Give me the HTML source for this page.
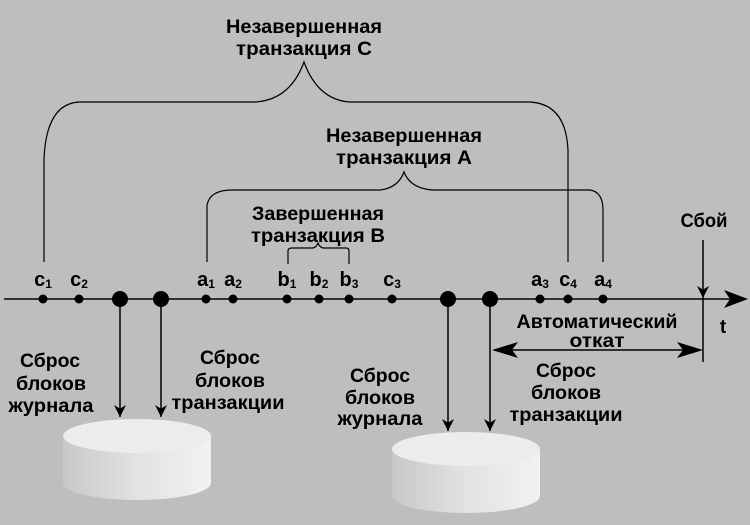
<!DOCTYPE html>
<html><head><meta charset="utf-8"><style>
html,body{margin:0;padding:0;background:#bebebe;}
svg{display:block}
text{font-family:"Liberation Sans",sans-serif;fill:#000;}
.l{font-size:19px;text-anchor:middle;font-weight:bold}
.s{font-size:20px;text-anchor:middle;font-weight:bold}
.sub{font-size:12px}
</style></head><body>
<svg width="750" height="525" viewBox="0 0 750 525" xmlns="http://www.w3.org/2000/svg">
<defs>
<linearGradient id="g" x1="0" x2="1" y1="0" y2="0">
<stop offset="0" stop-color="#c8c8c8"/><stop offset="0.5" stop-color="#e2e2e2"/><stop offset="1" stop-color="#f2f2f2"/>
</linearGradient>
<marker id="ah" viewBox="0 0 10 10" refX="10" refY="5" markerWidth="18" markerHeight="12" orient="auto" markerUnits="userSpaceOnUse"><path d="M0,0 L10,5 L0,10 L3,5 z" fill="#000"/></marker>
</defs>
<rect width="750" height="525" fill="#bebebe"/>
<g fill="none" stroke="#000" stroke-width="1.2">
<path d="M44,262 V160 Q46,103 80,102 H255 Q290,100 304,62 Q318,100 350,102 H530 Q566,104 568,150 V262"/>
<path d="M207,262 V205 Q210,190 232,190 H380 Q398,188 404,172 Q410,188 432,190 H590 Q603,192 603,210 V262"/>
<path d="M288,264 V251 Q288,248 292,248 H312 Q316,248 318,243 Q320,248 324,248 H346 Q349,248 349,251 V264"/>
</g>
<line x1="4" y1="299" x2="738" y2="299" stroke="#333" stroke-width="2"/>
<path d="M748,299 L724,290 L730,299 L724,308 z" fill="#000"/>
<path d="M63,436 V483 A74,17 0 0 0 211,483 V436 z" fill="url(#g)"/>
<ellipse cx="137" cy="436" rx="74" ry="17" fill="#ececec"/>
<path d="M392,449 V496 A74,17 0 0 0 540,496 V449 z" fill="url(#g)"/>
<ellipse cx="466" cy="449" rx="74" ry="17" fill="#ececec"/>
<g stroke="#000" stroke-width="1.5" marker-end="url(#ah)">
<line x1="120" y1="300" x2="120" y2="417"/>
<line x1="161" y1="300" x2="161" y2="417"/>
<line x1="448" y1="300" x2="448" y2="431"/>
<line x1="490" y1="300" x2="490" y2="431"/>
<line x1="703" y1="240" x2="703" y2="298"/>
</g>
<line x1="703" y1="298" x2="703" y2="362" stroke="#000" stroke-width="1.5"/>
<line x1="495" y1="350" x2="700" y2="350" stroke="#000" stroke-width="1.5"/>
<path d="M492,350 L518,342 L512,350 L518,358 z M703,350 L677,342 L683,350 L677,358 z" fill="#000"/>
<g fill="#000">
<circle cx="43" cy="299" r="4.5"/><circle cx="79" cy="299" r="4.5"/>
<circle cx="120" cy="299" r="8"/><circle cx="161" cy="299" r="8"/>
<circle cx="206" cy="299" r="4.5"/><circle cx="233" cy="299" r="4.5"/>
<circle cx="287" cy="299" r="4.5"/><circle cx="319" cy="299" r="4.5"/><circle cx="349" cy="299" r="4.5"/>
<circle cx="392" cy="299" r="4.5"/>
<circle cx="448" cy="299" r="8"/><circle cx="490" cy="299" r="8"/>
<circle cx="540" cy="299" r="4.5"/><circle cx="568" cy="299" r="4.5"/><circle cx="603" cy="299" r="4.5"/>
</g>
<g class="s">
<text x="43" y="286">c<tspan class="sub" dy="2">1</tspan></text>
<text x="79" y="286">c<tspan class="sub" dy="2">2</tspan></text>
<text x="206" y="286">a<tspan class="sub" dy="2">1</tspan></text>
<text x="233" y="286">a<tspan class="sub" dy="2">2</tspan></text>
<text x="287" y="286">b<tspan class="sub" dy="2">1</tspan></text>
<text x="319" y="286">b<tspan class="sub" dy="2">2</tspan></text>
<text x="349" y="286">b<tspan class="sub" dy="2">3</tspan></text>
<text x="392" y="286">c<tspan class="sub" dy="2">3</tspan></text>
<text x="540" y="286">a<tspan class="sub" dy="2">3</tspan></text>
<text x="568" y="286">c<tspan class="sub" dy="2">4</tspan></text>
<text x="603" y="286">a<tspan class="sub" dy="2">4</tspan></text>
</g>
<g class="l">
<text x="304" y="33" textLength="156" lengthAdjust="spacingAndGlyphs">Незавершенная</text>
<text x="304" y="55" textLength="136" lengthAdjust="spacingAndGlyphs">транзакция С</text>
<text x="404" y="142" textLength="156" lengthAdjust="spacingAndGlyphs">Незавершенная</text>
<text x="404" y="164" textLength="136" lengthAdjust="spacingAndGlyphs">транзакция А</text>
<text x="318" y="220" textLength="132" lengthAdjust="spacingAndGlyphs">Завершенная</text>
<text x="318" y="242" textLength="134" lengthAdjust="spacingAndGlyphs">транзакция В</text>
<text x="704" y="227" textLength="47" lengthAdjust="spacingAndGlyphs">Сбой</text>
<text x="597" y="328" textLength="161" lengthAdjust="spacingAndGlyphs">Автоматический</text>
<text x="597" y="347" textLength="55" lengthAdjust="spacingAndGlyphs">откат</text>
<text x="723" y="333">t</text>
<text x="50" y="367" textLength="60" lengthAdjust="spacingAndGlyphs">Сброс</text>
<text x="51" y="390" textLength="70" lengthAdjust="spacingAndGlyphs">блоков</text>
<text x="51" y="412" textLength="85" lengthAdjust="spacingAndGlyphs">журнала</text>
<text x="230" y="364" textLength="60" lengthAdjust="spacingAndGlyphs">Сброс</text>
<text x="230" y="387" textLength="70" lengthAdjust="spacingAndGlyphs">блоков</text>
<text x="228" y="409" textLength="113" lengthAdjust="spacingAndGlyphs">транзакции</text>
<text x="380" y="382" textLength="60" lengthAdjust="spacingAndGlyphs">Сброс</text>
<text x="380" y="404" textLength="70" lengthAdjust="spacingAndGlyphs">блоков</text>
<text x="380" y="425" textLength="85" lengthAdjust="spacingAndGlyphs">журнала</text>
<text x="566" y="377" textLength="60" lengthAdjust="spacingAndGlyphs">Сброс</text>
<text x="566" y="399" textLength="70" lengthAdjust="spacingAndGlyphs">блоков</text>
<text x="566" y="421" textLength="113" lengthAdjust="spacingAndGlyphs">транзакции</text>
</g>
</svg>
</body></html>
